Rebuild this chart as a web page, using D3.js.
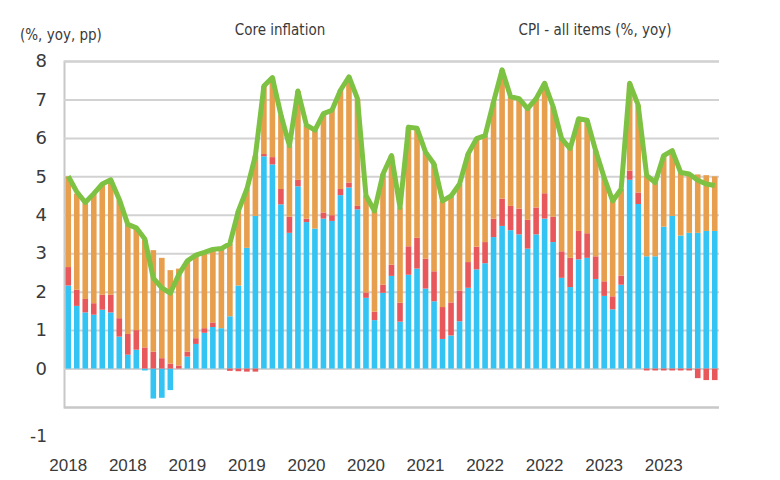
<!DOCTYPE html>
<html>
<head>
<meta charset="utf-8">
<script src="https://cdn.jsdelivr.net/npm/d3@7"></script>
<style>
  body { margin: 0; background: #fff; }
  text { fill: #3a3a3a; }
</style>
</head>
<body>
<div id="chart"></div>
<script>
// monthly categories, Jan 2018 - May 2024
var months = [
  "2018-01","2018-02","2018-03","2018-04","2018-05","2018-06","2018-07","2018-08","2018-09","2018-10","2018-11","2018-12",
  "2019-01","2019-02","2019-03","2019-04","2019-05","2019-06","2019-07","2019-08","2019-09","2019-10","2019-11","2019-12",
  "2020-01","2020-02","2020-03","2020-04","2020-05","2020-06","2020-07","2020-08","2020-09","2020-10","2020-11","2020-12",
  "2021-01","2021-02","2021-03","2021-04","2021-05","2021-06","2021-07","2021-08","2021-09","2021-10","2021-11","2021-12",
  "2022-01","2022-02","2022-03","2022-04","2022-05","2022-06","2022-07","2022-08","2022-09","2022-10","2022-11","2022-12",
  "2023-01","2023-02","2023-03","2023-04","2023-05","2023-06","2023-07","2023-08","2023-09","2023-10","2023-11","2023-12",
  "2024-01","2024-02","2024-03","2024-04","2024-05"
];

// core contribution (blue), pp
var core = [
  2.16,1.63,1.46,1.40,1.53,1.46,0.83,0.36,0.49,-0.05,-0.78,-0.76,
  -0.56,0.00,0.31,0.64,0.93,1.08,1.05,1.36,2.16,3.14,3.97,5.52,
  5.31,4.27,3.53,4.74,3.81,3.64,3.90,3.84,4.51,4.71,4.14,1.84,
  1.26,1.97,2.41,1.22,2.44,2.60,2.08,1.75,0.77,0.86,1.23,2.10,
  2.58,2.74,3.42,3.71,3.60,3.49,3.12,3.49,3.90,3.29,2.36,2.12,
  2.84,2.88,2.33,1.89,1.54,2.18,4.91,4.28,2.92,2.92,3.69,3.97,
  3.46,3.53,3.53,3.58,3.58
];

// second contribution (red), pp
var second = [
  0.48,0.42,0.35,0.30,0.39,0.46,0.48,0.54,0.51,0.55,0.44,0.27,
  0.13,0.08,0.13,0.15,0.12,0.12,0.00,-0.06,-0.07,-0.08,-0.08,0.06,
  0.19,0.40,0.42,0.17,0.09,0.00,0.16,0.15,0.16,0.13,0.09,0.14,
  0.22,0.21,0.29,0.49,0.74,0.80,0.78,0.78,0.83,0.86,0.80,0.67,
  0.59,0.55,0.48,0.71,0.63,0.67,0.75,0.70,0.66,0.66,0.69,0.76,
  0.74,0.64,0.59,0.38,0.34,0.24,0.24,0.30,-0.05,-0.05,-0.05,-0.05,
  -0.05,-0.05,-0.25,-0.30,-0.30
];

// third contribution (orange), pp
var third = [
  2.36,2.50,2.51,2.85,2.88,2.98,3.09,2.85,2.66,2.80,2.64,2.61,
  2.43,2.52,2.36,2.16,1.97,1.90,2.07,1.89,1.94,1.53,1.57,1.77,
  2.07,1.93,1.85,2.31,2.43,2.56,2.57,2.73,2.57,2.75,2.79,2.52,
  2.62,2.88,2.84,2.48,3.10,2.85,2.77,2.79,2.76,2.77,2.77,2.81,
  2.81,2.77,3.04,3.35,2.84,2.86,2.89,2.83,2.86,2.86,2.93,2.84,
  2.92,2.94,2.75,2.70,2.48,2.25,2.27,2.27,2.10,1.92,1.85,1.70,
  1.64,1.53,1.52,1.45,1.42
];

// CPI all items (green line), % yoy
var cpi = [
  5.00,4.60,4.32,4.55,4.80,4.91,4.40,3.75,3.66,3.37,2.35,2.10,
  1.96,2.45,2.80,2.95,3.02,3.10,3.12,3.25,4.10,4.67,5.54,7.35,
  7.57,6.60,5.80,7.22,6.33,6.20,6.63,6.72,7.24,7.59,7.02,4.50,
  4.10,5.06,5.54,4.19,6.28,6.25,5.63,5.32,4.36,4.49,4.80,5.58,
  5.98,6.06,6.94,7.77,7.07,7.02,6.76,7.02,7.42,6.81,5.98,5.72,
  6.50,6.46,5.67,4.97,4.36,4.67,7.42,6.85,5.02,4.84,5.54,5.67,
  5.10,5.06,4.90,4.80,4.76
];

var yTicks = [-1, 0, 1, 2, 3, 4, 5, 6, 7, 8];
var xTickMonths = ["2018-01","2018-08","2019-03","2019-10","2020-05","2020-12","2021-07","2022-02","2022-09","2023-04","2023-11"];
var xTickLabels = ["2018","2018","2019","2019","2020","2020","2021","2022","2022","2023","2023"];

var keys = ["core", "second", "third"];
var colors = { core: "#33c4f3", second: "#e8585b", third: "#e79f4e" };

var W = 780, H = 480;
var plot = { left: 64, right: 719, top: 61, bottom: 407 };

var svg = d3.select("#chart").append("svg")
    .attr("width", W)
    .attr("height", H)
    .style("font-family", "'DejaVu Sans Condensed', 'DejaVu Sans', sans-serif");

var data = months.map(function (m, i) {
  return { month: m, core: core[i], second: second[i], third: third[i], cpi: cpi[i] };
});

var x = d3.scaleBand()
    .domain(months)
    .range([plot.left, plot.right])
    .paddingInner(0.34)
    .paddingOuter(0.17);

var y = d3.scaleLinear()
    .domain([-1, 8])
    .range([plot.bottom, plot.top]);

// gridlines + left axis
var yAxis = svg.append("g")
    .attr("transform", "translate(" + plot.left + ",0)")
    .call(d3.axisLeft(y).tickValues(yTicks).tickSize(-(plot.right - plot.left)).tickPadding(17)
      .tickFormat(function (d) { return String(d); }));
yAxis.select(".domain").attr("stroke", "#c8c8c8").attr("stroke-width", 2);
yAxis.selectAll(".tick line").attr("stroke", "#d2d2d2").attr("stroke-width", 2);
yAxis.selectAll(".tick text")
    .style("font-family", "'DejaVu Sans', sans-serif")
    .style("font-size", "18px")
    .attr("fill", "#3a3a3a");
// the -1 label sits lower than its line in the original
yAxis.selectAll(".tick").filter(function (d) { return d === -1; })
    .select("text").attr("dy", "2.05em").style("font-size", "17px");
yAxis.selectAll(".tick").filter(function (d) { return d === -1; })
    .select("line").attr("stroke", "#c8c8c8");

// stacked bars
var stacked = d3.stack()
    .keys(keys)
    .offset(d3.stackOffsetDiverging)(data);

svg.append("g")
    .selectAll("g")
    .data(stacked)
    .enter()
    .append("g")
    .attr("fill", function (d) { return colors[d.key]; })
    .selectAll("rect")
    .data(function (d) { return d; })
    .enter()
    .append("rect")
    .attr("x", function (d) { return x(d.data.month); })
    .attr("width", x.bandwidth())
    .attr("y", function (d) { return y(Math.max(d[0], d[1])); })
    .attr("height", function (d) { return Math.abs(y(d[0]) - y(d[1])); });

// CPI line
var line = d3.line()
    .x(function (d) { return x(d.month) + x.bandwidth() / 2; })
    .y(function (d) { return y(d.cpi); });

svg.append("path")
    .datum(data)
    .attr("fill", "none")
    .attr("stroke", "#7dc243")
    .attr("stroke-width", 5)
    .attr("stroke-linejoin", "round")
    .attr("d", line);

// x axis labels (every 7th month)
var xAxis = svg.append("g")
    .attr("transform", "translate(0," + (plot.bottom + 49) + ")")
    .call(d3.axisBottom(x).tickValues(xTickMonths).tickSize(0)
      .tickFormat(function (d) { return xTickLabels[xTickMonths.indexOf(d)]; }));
xAxis.select(".domain").remove();
xAxis.selectAll("text")
    .style("font-size", "17px")
    .attr("fill", "#3a3a3a");

// titles
svg.append("text")
    .attr("x", 20)
    .attr("y", 40)
    .style("font-size", "15px")
    .text("(%, yoy, pp)");

svg.append("text")
    .attr("x", 280)
    .attr("y", 35)
    .attr("text-anchor", "middle")
    .style("font-size", "15px")
    .text("Core inflation");

svg.append("text")
    .attr("x", 595)
    .attr("y", 35)
    .attr("text-anchor", "middle")
    .style("font-size", "15px")
    .text("CPI - all items (%, yoy)");
</script>
</body>
</html>
